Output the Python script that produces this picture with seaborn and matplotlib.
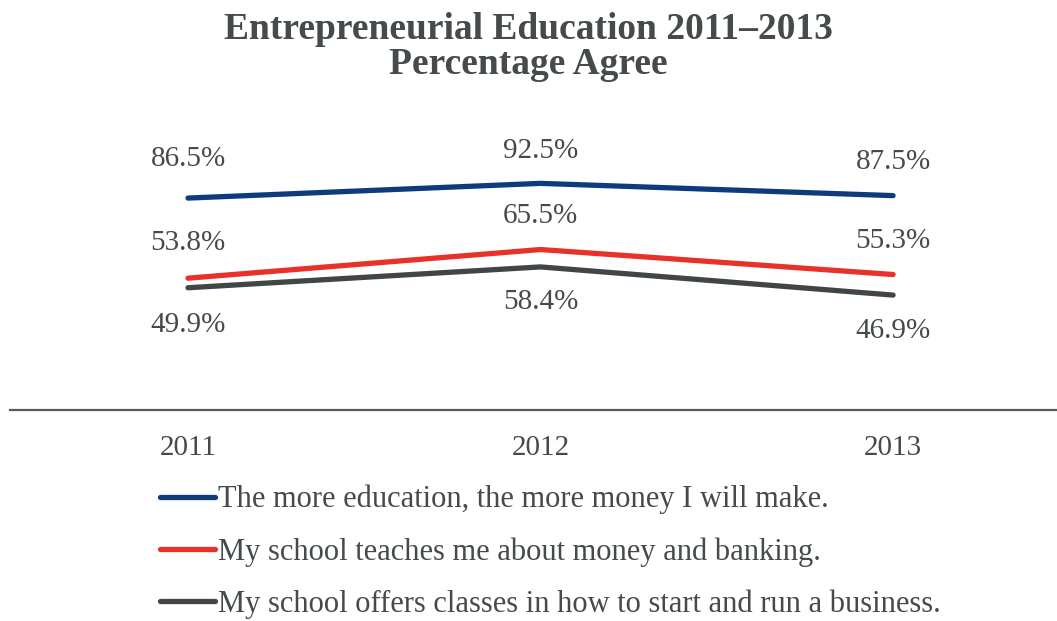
import pandas as pd
import seaborn as sns
import matplotlib.pyplot as plt

years = [2011, 2012, 2013]
series_names = [
    "The more education, the more money I will make.",
    "My school teaches me about money and banking.",
    "My school offers classes in how to start and run a business.",
]
more_money = [86.5, 92.5, 87.5]
money_banking = [53.8, 65.5, 55.3]
start_business = [49.9, 58.4, 46.9]
colors = ["#0d3b7c", "#e8312b", "#404545"]

df = pd.DataFrame({
    "year": years * 3,
    "pct": more_money + money_banking + start_business,
    "series": [series_names[0]] * 3 + [series_names[1]] * 3 + [series_names[2]] * 3,
})

sns.set_style("white")
plt.rcParams["font.family"] = ["Liberation Serif", "DejaVu Serif"]
text_color = "#454a4a"

fig = plt.figure(figsize=(10.57, 6.21), dpi=100)
ax = fig.add_axes([10 / 1057, 1 - 410 / 621, 1047 / 1057, 290 / 621])

sns.lineplot(data=df, x="year", y="pct", hue="series", palette=colors,
             linewidth=3.8, ax=ax, solid_capstyle="round", legend=True)

# value labels: above for first two series, below for the last
offsets = [[28, 23, 24], [25, 24, 24], [-27, -25, -26]]
for vals, offs in zip([more_money, money_banking, start_business], offsets):
    for x, v, o in zip(years, vals, offs):
        ax.annotate(f"{v:.1f}%", (x, v), xytext=(0, o), textcoords="offset points",
                    ha="center", va="center", fontsize=21, color=text_color)

ax.set_xlim(2011 - 0.505, 2013 + 0.465)
ax.set_ylim(0, 290 / 2.45)
ax.set_yticks([])
ax.set_xticks(years)
ax.set_xticklabels([str(y) for y in years], fontsize=21, color=text_color)
ax.tick_params(axis="x", length=0, pad=18)
ax.set_xlabel("")
ax.set_ylabel("")
for s in ["top", "left", "right"]:
    ax.spines[s].set_visible(False)
ax.spines["bottom"].set_color("#555a5a")
ax.spines["bottom"].set_linewidth(1.6)

handles, labels = ax.get_legend_handles_labels()
ax.legend(handles, labels, loc="upper left", bbox_to_anchor=(160 / 1057, 1 - 485 / 621),
          bbox_transform=fig.transFigure, frameon=False, fontsize=22,
          handlelength=1.8, handletextpad=0.1, labelspacing=0.74,
          borderpad=0, borderaxespad=0, labelcolor=text_color)

fig.suptitle("Entrepreneurial Education 2011\u20132013\nPercentage Agree",
             y=0.98, fontsize=27, fontweight="bold", color=text_color,
             linespacing=1.0)

fig.savefig("out.png", dpi=100)
